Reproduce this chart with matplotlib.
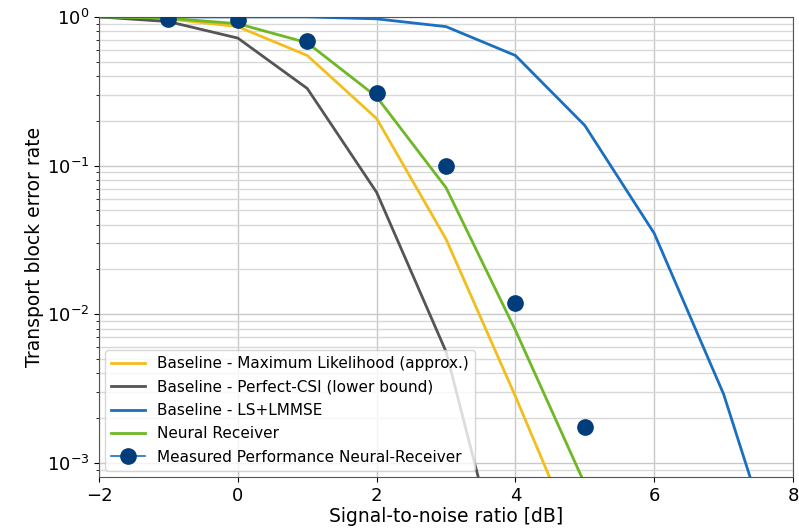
import matplotlib
matplotlib.use("Agg")
import matplotlib.pyplot as plt
from matplotlib.lines import Line2D

snr = [-2, -1, 0, 1, 2, 3, 4, 5, 6, 7, 8]
bler_ml = [1.0, 0.97, 0.86, 0.55, 0.207, 0.032, 0.0028, 0.00022, 1e-5, 1e-6, 1e-7]
bler_pcsi = [1.0, 0.93, 0.72, 0.33, 0.066, 0.0056, 0.000085, 1e-6, 1e-7, 1e-8, 1e-9]
bler_ls = [1.0, 1.0, 1.0, 1.0, 0.97, 0.86, 0.55, 0.186, 0.035, 0.0029, 0.0001]
bler_nr = [1.0, 0.98, 0.9, 0.67, 0.29, 0.071, 0.0078, 0.00072, 5e-5, 3e-6, 2e-7]
snr_meas = [-1, 0, 1, 2, 3, 4, 5]
bler_meas = [0.97, 0.95, 0.69, 0.31, 0.1, 0.0119, 0.00175]

labels = ["Baseline - Maximum Likelihood (approx.)",
          "Baseline - Perfect-CSI (lower bound)",
          "Baseline - LS+LMMSE",
          "Neural Receiver",
          "Measured Performance Neural-Receiver"]

c_ml = "#F2BE1E"
c_pcsi = "#555555"
c_ls = "#1B6FC0"
c_nr = "#6DB824"
c_meas = "#003D7A"

fig = plt.figure(figsize=(7.99, 5.28), dpi=100)
ax = fig.add_axes([0.124, 0.0966, 0.8685, 0.8714])

lw = 2.0
ax.semilogy(snr, bler_ml, color=c_ml, lw=lw, label=labels[0])
ax.semilogy(snr, bler_pcsi, color=c_pcsi, lw=lw, label=labels[1])
ax.semilogy(snr, bler_ls, color=c_ls, lw=lw, label=labels[2])
ax.semilogy(snr, bler_nr, color=c_nr, lw=lw, label=labels[3])
ax.semilogy(snr_meas, bler_meas, linestyle="none", marker="o", markersize=11,
            color=c_meas, zorder=5)

ax.set_xlim(-2, 8)
ax.set_ylim(10 ** -3.095, 1.0)
ax.grid(True, which="major", color="#c8c8c8", lw=1.0)
ax.grid(True, which="minor", axis="y", color="#d8d8d8", lw=1.0)
ax.set_axisbelow(True)

ax.tick_params(labelsize=13)
ax.set_xlabel("Signal-to-noise ratio [dB]", fontsize=13.5, labelpad=2)
ax.set_ylabel("Transport block error rate", fontsize=13.5, labelpad=2)
for s in ax.spines.values():
    s.set_color("#555555")

handles, _ = ax.get_legend_handles_labels()
handles.append(Line2D([], [], color=c_ls, lw=1.2, marker="o", markersize=11,
                      markerfacecolor=c_meas, markeredgecolor=c_meas))
ax.legend(handles, labels, loc="lower left", fontsize=11, labelspacing=0.55,
          framealpha=0.8, borderaxespad=0.4, handlelength=2.2)

fig.savefig("out.png", dpi=100)
